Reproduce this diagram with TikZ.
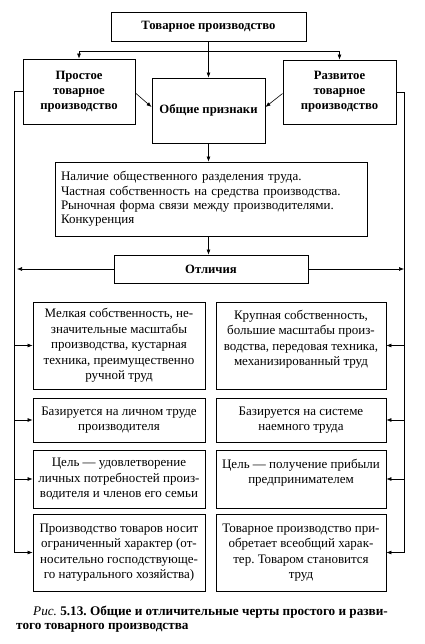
\documentclass[tikz,border=0pt]{standalone}
\usepackage{fontspec}
\setmainfont{Liberation Serif}
\usetikzlibrary{arrows.meta, positioning, calc}
\frenchspacing

\tikzset{
  box/.style={draw, line width=0.9pt, align=center, inner sep=2pt,
    font=\fontsize{13}{15.5}\selectfont},
  headbox/.style={box, font=\fontsize{12.7}{15}\selectfont\bfseries},
  arr/.style={-{Latex[length=5pt,width=4pt]}, line width=0.6pt},
  line/.style={line width=0.6pt}
}

\begin{document}
\begin{tikzpicture}[x=1pt, y=-1pt]
  \useasboundingbox (0,0) rectangle (424,644);

  % upper part
  \node[headbox, minimum width=195pt, minimum height=29pt] (tovar) at (208.5,26.5) {Товарное производство};
  \node[headbox, minimum width=112pt, minimum height=65pt] (prostoe) at (79,91.5) {Простое\\товарное\\производство};
  \node[headbox, minimum width=113pt, minimum height=64pt] (razvitoe) at (339.5,92) {Развитое\\товарное\\производство};
  \node[headbox, minimum width=113pt, minimum height=65pt] (obshchie) at (208.5,110.5) {Общие признаки};

  \node[box, align=left, text width=300pt, minimum height=74pt, inner sep=6pt,
    font=\fontsize{13}{14.3}\selectfont] (priznaki) at (211,199)
    {Наличие общественного разделения труда.\\
     Частная собственность на средства производства.\\
     Рыночная форма связи между производителями.\\
     Конкуренция};

  \node[headbox, minimum width=194pt, minimum height=28pt] (otlichiya) at (211,269) {Отличия};

  % differences, left column
  \node[box, minimum width=172pt, minimum height=87pt] (l1) at (119,345.5)
    {Мелкая собственность, не-\\значительные масштабы\\производства, кустарная\\техника, преимущественно\\ручной труд};
  \node[box, minimum width=172pt, minimum height=44pt] (l2) at (119,420)
    {Базируется на личном труде\\производителя};
  \node[box, minimum width=172pt, minimum height=58pt] (l3) at (119,479)
    {Цель — удовлетворение\\личных потребностей произ-\\водителя и членов его семьи};
  \node[box, minimum width=172pt, minimum height=77pt] (l4) at (119,552.5)
    {Производство товаров носит\\ограниченный характер (от-\\носительно господствующе-\\го натурального хозяйства)};

  % differences, right column (empty last line keeps text level with the left one)
  \node[box, minimum width=170pt, minimum height=87pt] (r1) at (301,345.5)
    {Крупная собственность,\\большие масштабы произ-\\водства, передовая техника,\\механизированный труд\\\mbox{}};
  \node[box, minimum width=170pt, minimum height=44pt] (r2) at (301,420)
    {Базируется на системе\\наемного труда};
  \node[box, minimum width=170pt, minimum height=58pt] (r3) at (301,479)
    {Цель — получение прибыли\\предпринимателем\\\mbox{}};
  \node[box, minimum width=170pt, minimum height=77pt] (r4) at (301,552.5)
    {Товарное производство при-\\обретает всеобщий харак-\\тер. Товаром становится\\труд};

  % connectors
  \coordinate (split) at ($(tovar.south)+(0,10)$);
  \coordinate (lx) at (14,0);
  \coordinate (rx) at (404,0);
  \draw[arr] (tovar.south) -- (obshchie.north);
  \draw[arr] (split) -| (prostoe.north);
  \draw[arr] (split) -| (razvitoe.north);
  \draw[arr] ($(prostoe.east)+(0,1.5)$) -- ($(obshchie.west)+(0,-3.5)$);
  \draw[arr] ($(razvitoe.west)+(0,1.5)$) -- ($(obshchie.east)+(0,-3.5)$);
  \draw[arr] (obshchie.south) -- (priznaki.north -| obshchie.south);
  \draw[arr] (priznaki.south -| obshchie.south) -- (otlichiya.north -| obshchie.south);
  \draw[arr] (otlichiya.west) -- ($(otlichiya.west -| lx)+(3,0)$);
  \draw[arr] (otlichiya.east) -- (otlichiya.east -| rx);

  \draw[arr] (prostoe.west) -- (prostoe.west -| lx) |- (l4.west);
  \draw[arr] (razvitoe.east) -- (razvitoe.east -| rx) |- (r4.east);
  \foreach \n in {l1,l2,l3} {
    \draw[arr] (\n.west -| lx) -- (\n.west);
  }
  \foreach \n in {r1,r2,r3} {
    \draw[arr] (\n.east -| rx) -- (\n.east);
  }

  % caption
  \node[anchor=west, font=\fontsize{13.2}{16}\selectfont\bfseries, inner sep=0pt] (cap1) at (33,612)
    {\textit{\mdseries Рис.} 5.13. Общие и отличительные черты простого и разви-};
  \node[anchor=west, font=\fontsize{13.2}{16}\selectfont\bfseries, inner sep=0pt] (cap2) at (16,628)
    {того товарного производства};
\end{tikzpicture}
\end{document}
